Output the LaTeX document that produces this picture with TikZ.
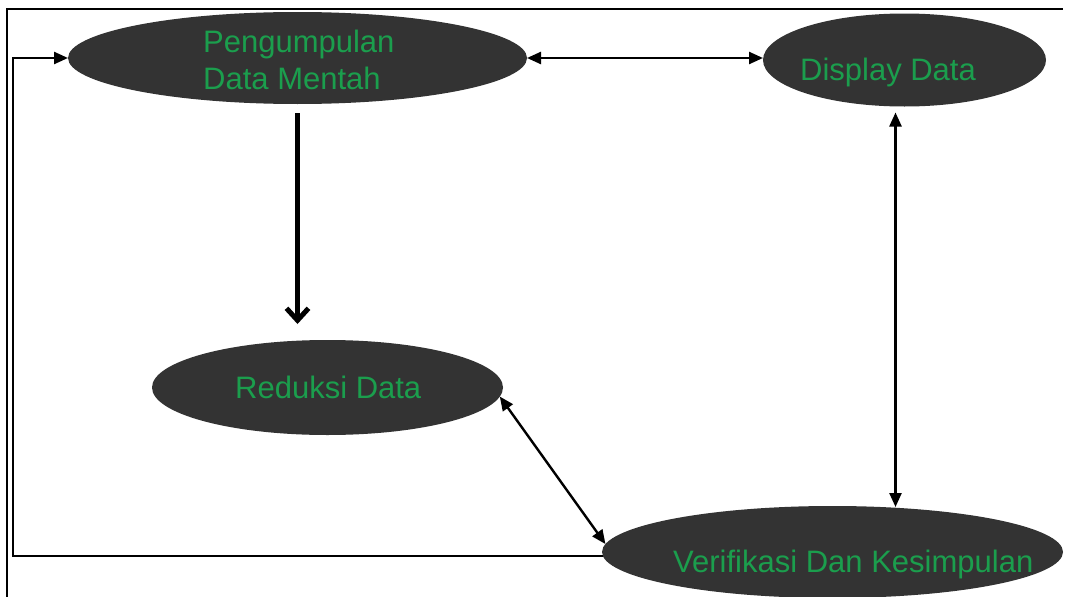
\documentclass[tikz,border=0pt]{standalone}
\usepackage{fontspec}
\setmainfont{Liberation Sans}
\usetikzlibrary{shapes.geometric,arrows.meta,calc}
\definecolor{blobgray}{RGB}{51,51,51}
\definecolor{labelgreen}{RGB}{27,158,77}

\begin{document}
\begin{tikzpicture}[x = 1pt, y = -1pt,
  blob/.style = {draw = none, fill = blobgray, ellipse, inner sep = 0pt, outer sep = 0pt},
  lbl/.style = {text = labelgreen, font = \fontsize{31}{37}\selectfont, inner sep = 0pt},
  link/.style = {line width = 2.4pt, {Triangle[length=14pt,width=12pt]}-{Triangle[length=14pt,width=12pt]}},
  feed/.style = {line width = 2.4pt, -{Triangle[length=14pt,width=12pt]}},
  flow/.style = {line width = 5pt, -{Straight Barb[length=12pt,width=22pt]}}]
\useasboundingbox (0,0) rectangle (1066,597);
\draw[line width = 1.5pt] (7,597) -- (7,9) -- (1063,9);
\node[blob, minimum width = 459pt, minimum height = 92pt] (pdm) at (297.5,58) {};
\node[blob, minimum width = 283pt, minimum height = 93pt] (dd) at (904.5,60) {};
\node[blob, minimum width = 351pt, minimum height = 95pt] (rd) at (327.5,387.5) {};
\node[blob, minimum width = 461pt, minimum height = 92pt] (vk) at (832.5,552) {};
\node[lbl, align = left, anchor = west] (tpdm) at (203,60) {Pengumpulan\\Data Mentah};
\node[lbl, anchor = base] (tdd) at (888,80) {Display Data};
\node[lbl, anchor = base west] (trd) at (235,398) {Reduksi Data};
\node[lbl, anchor = base west] (tvk) at (673,572) {Verifikasi Dan Kesimpulan};
\coordinate (fb) at (13,300);
\coordinate (dv) at ($(dd.south)+(-9,6)$);
\draw[link] (pdm.east) -- (pdm.east -| dd.west);
\draw[link] (dv) -- ($(dv |- vk.north)+(0,1)$);
\draw[link] (rd.-3) -- (vk.178);
\draw[flow] ($(pdm.south)+(0,9)$) -- ($(pdm.south |- rd.north)+(0,-16)$);
\draw[feed] (vk.181) -| (fb) |- (pdm.west);
\end{tikzpicture}
\end{document}
